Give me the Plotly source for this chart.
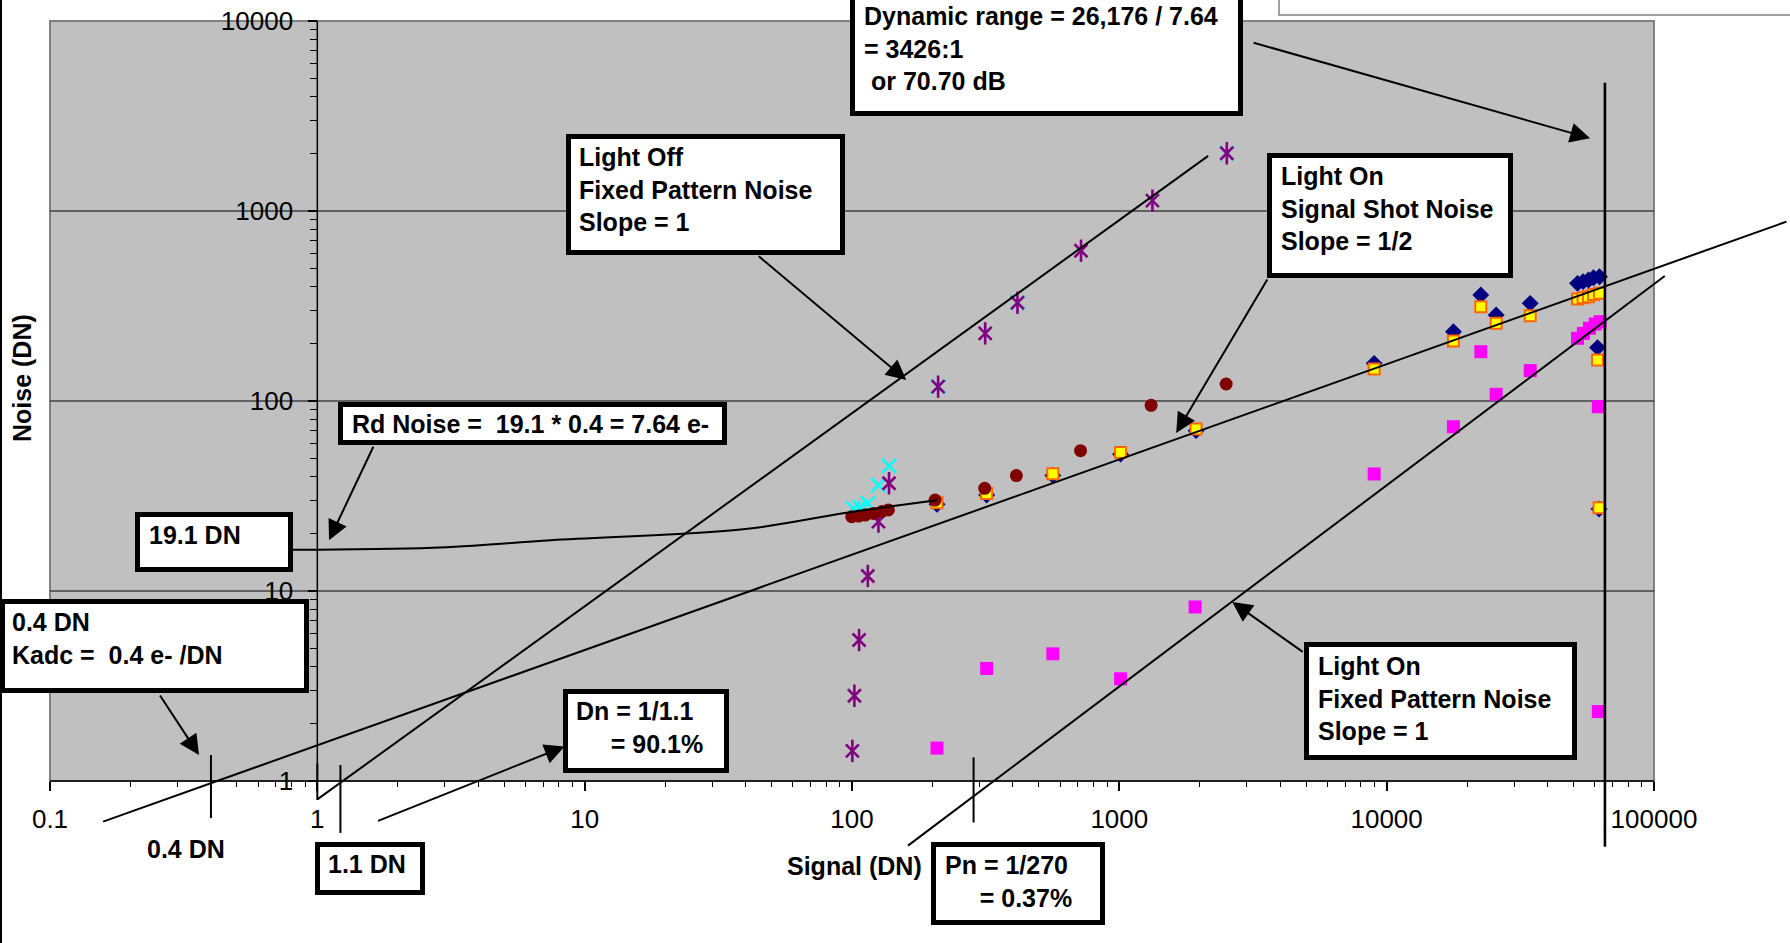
import math
import plotly.graph_objects as go

# ---------------- data ----------------
x_tick_values = [0.1, 1, 10, 100, 1000, 10000, 100000]
x_tick_labels = ["0.1", "1", "10", "100", "1000", "10000", "100000"]
y_tick_values = [1, 10, 100, 1000, 10000]
y_tick_labels = ["1", "10", "100", "1000", "10000"]

# Light Off - fixed pattern noise (purple asterisks)
off_fpn_signal = [100.3, 102.1, 106.3, 114.6, 125.6, 137.6, 210, 315, 416, 719, 1330, 2524]
off_fpn_noise = [1.44, 2.81, 5.52, 12.0, 23.2, 36.9, 119, 227, 329, 618, 1133, 2013]

# Light Off - total noise (cyan x)
off_total_signal = [101, 107, 114.6, 125.6, 137.6, 210, 416, 2524]
off_total_noise = [27.2, 27.6, 28.9, 36.1, 45.5, 119, 329, 2013]

# read + shot noise (dark red circles)
read_shot_signal = [99.8, 105.7, 112, 120.3, 129.3, 136.8, 204.6, 313.7, 412, 716, 1315, 2510]
read_shot_noise = [24.6, 24.8, 25.1, 25.6, 26.2, 26.7, 30.1, 34.7, 40.5, 54.8, 94.9, 122.9]

# Light On - total noise (navy diamonds)
on_total_signal = [208, 319, 564, 1011, 1937, 8980, 17780, 22500, 25690, 34440,
                   51760, 54300, 56900, 59400, 62550, 61500, 62300]
on_total_noise = [28.6, 32.0, 40.6, 52.5, 69.8, 157.8, 231.6, 361, 283.6, 326.6,
                  416, 425, 433, 445, 451, 191, 27.0]

# Light On - shot noise (yellow squares)
on_shot_signal = [208, 319, 564, 1011, 1937, 8980, 17780, 22500, 25690, 34440,
                  51760, 54300, 56900, 59400, 62550, 61500, 62300]
on_shot_noise = [29.1, 32.6, 41.4, 53.5, 71.2, 147.4, 207, 313.6, 256.5, 281,
                 344, 349, 354, 364, 369, 164.4, 27.4]

# Light On - fixed pattern noise (magenta squares)
on_fpn_signal = [208, 319, 564, 1011, 1921, 8980, 17780, 22500, 25690, 34440,
                 51760, 54450, 57380, 60260, 62900, 61900, 61900]
on_fpn_noise = [1.49, 3.91, 4.67, 3.45, 8.24, 41.3, 73.2, 181.8, 108.4, 144.5,
                213.8, 227, 241.5, 254, 261.5, 93.3, 2.32]

# hand-drawn model lines (signal, noise)
off_fpn_line_signal = [1.0, 2150]
off_fpn_line_noise = [0.8, 1950]
shot_line_signal = [0.158, 313000]
shot_line_noise = [0.611, 879]
on_fpn_line_signal = [162, 109700]
on_fpn_line_noise = [0.457, 455]
read_curve_signal = [0.81, 2.7, 7.5, 40, 97, 208]
read_curve_noise = [16.5, 16.9, 18.5, 21.2, 25.9, 30.0]
full_well_signal = [65535, 65535]
full_well_noise = [0.451, 4730]

# short vertical marks at 0.4 DN, 1 DN, 1.1 DN and Pn
mark_signal = [0.4, 1.0, 1.22, 285]
mark_noise_low = [0.638, 0.794, 0.533, 0.605]
mark_noise_high = [1.37, 1.235, 1.214, 1.332]

# arrow tips (signal, noise)
arrow_tip_signal = [57700, 159.6, 1632, 1.106, 0.361, 8.41, 2645]
arrow_tip_noise = [2414, 129, 67.9, 18.5, 1.37, 1.52, 8.76]

# ---------------- layout constants ----------------
W, H = 1790, 943
X_RANGE = [-1 - 50 / 267.33, -1 + 1740 / 267.33]
Y_RANGE = [0 - 162 / 190.0, 4 + 21 / 190.0]
FONT = "Liberation Sans, Arial, sans-serif"


def px(x):
    return x / W


def py(y):
    return 1 - y / H


fig = go.Figure()

# markers
fig.add_trace(go.Scatter(x=on_total_signal, y=on_total_noise, mode="markers",
                         marker=dict(symbol="diamond", size=13, color="#000080", line=dict(width=0))))
fig.add_trace(go.Scatter(x=on_shot_signal, y=on_shot_noise, mode="markers",
                         marker=dict(symbol="square", size=11, color="#FFFF00",
                                     line=dict(color="#FF6600", width=2))))
fig.add_trace(go.Scatter(x=on_fpn_signal, y=on_fpn_noise, mode="markers",
                         marker=dict(symbol="square", size=13, color="#FF00FF", line=dict(width=0))))
fig.add_trace(go.Scatter(x=off_total_signal, y=off_total_noise, mode="markers",
                         marker=dict(symbol="x-thin-open", size=14, color="#00FFFF",
                                     line=dict(color="#00FFFF", width=2.5))))
fig.add_trace(go.Scatter(x=off_fpn_signal, y=off_fpn_noise, mode="markers",
                         marker=dict(symbol="x-thin-open", size=13, color="#800080",
                                     line=dict(color="#800080", width=2.6))))
fig.add_trace(go.Scatter(x=off_fpn_signal, y=off_fpn_noise, mode="markers",
                         marker=dict(symbol="line-ns-open", size=16, color="#800080",
                                     line=dict(color="#800080", width=2.6))))
fig.add_trace(go.Scatter(x=read_shot_signal, y=read_shot_noise, mode="markers",
                         marker=dict(symbol="circle", size=13, color="#800000", line=dict(width=0))))

# model lines
for xs, ys, shape in [
    (off_fpn_line_signal, off_fpn_line_noise, "linear"),
    (shot_line_signal, shot_line_noise, "linear"),
    (on_fpn_line_signal, on_fpn_line_noise, "linear"),
    (read_curve_signal, read_curve_noise, "spline"),
]:
    fig.add_trace(go.Scatter(x=xs, y=ys, mode="lines",
                             line=dict(color="black", width=2, shape=shape)))
fig.add_trace(go.Scatter(x=full_well_signal, y=full_well_noise, mode="lines",
                         line=dict(color="black", width=2.6)))
for s, lo, hi in zip(mark_signal, mark_noise_low, mark_noise_high):
    fig.add_trace(go.Scatter(x=[s, s], y=[lo, hi], mode="lines",
                             line=dict(color="black", width=2)))

shapes = []
# plot area (data coordinates)
shapes.append(dict(type="rect", xref="x", yref="y", x0=0.1, x1=100000, y0=1, y1=10000,
                   fillcolor="#C0C0C0", line=dict(color="#808080", width=2), layer="below"))
for g in [10, 100, 1000]:
    shapes.append(dict(type="line", xref="x", yref="y", x0=0.1, x1=100000, y0=g, y1=g,
                       line=dict(color="#404040", width=1.5), layer="below"))
# axis lines
shapes.append(dict(type="line", xref="x", yref="y", x0=0.1, x1=100000, y0=1, y1=1,
                   line=dict(color="black", width=1.5), layer="below"))
shapes.append(dict(type="line", xref="x", yref="y", x0=1, x1=1, y0=1, y1=10000,
                   line=dict(color="black", width=1.5), layer="below"))
# chart-area left edge and the clipped legend frame
shapes.append(dict(type="line", xref="paper", yref="paper", x0=px(1), x1=px(1), y0=0, y1=1,
                   line=dict(color="black", width=2)))
shapes.append(dict(type="rect", xref="paper", yref="paper", x0=px(1279), x1=px(1800),
                   y0=py(15), y1=py(-10), fillcolor="white", line=dict(color="#808080", width=1.5)))

# text boxes: outer pixel rectangles
boxes = [
    (850, -10, 1243, 116),
    (566, 134, 845, 255),
    (1267, 153, 1513, 278),
    (338, 402, 727, 445),
    (135, 512, 293, 572),
    (0, 599, 309, 693),
    (563, 689, 729, 773),
    (315, 842, 425, 895),
    (931, 842, 1105, 925),
    (1304, 642, 1577, 760),
]
BW = 5
for x0, y0, x1, y1 in boxes:
    shapes.append(dict(type="rect", xref="paper", yref="paper",
                       x0=px(x0 + BW / 2), x1=px(x1 - BW / 2),
                       y0=py(y1 - BW / 2), y1=py(y0 + BW / 2),
                       fillcolor="white", line=dict(color="black", width=BW)))

NB = "\u00a0"
texts = [
    (862, 48, "Dynamic range = 26,176 / 7.64<br>= 3426:1<br>" + NB + "or 70.70 dB"),
    (577, 190, "Light Off<br>Fixed Pattern Noise<br>Slope = 1"),
    (1279, 209, "Light On<br>Signal Shot Noise<br>Slope = 1/2"),
    (350, 424, "Rd Noise =" + NB + NB + "19.1 * 0.4 = 7.64 e-"),
    (147, 535, "19.1 DN"),
    (10, 638, "0.4 DN<br>Kadc =" + NB + NB + "0.4 e- /DN"),
    (574, 727, "Dn = 1/1.1<br>" + NB * 5 + "= 90.1%"),
    (326, 864, "1.1 DN"),
    (943, 881, "Pn = 1/270<br>" + NB * 5 + "= 0.37%"),
    (1316, 698, "Light On<br>Fixed Pattern Noise<br>Slope = 1"),
    (145, 849, "0.4 DN"),
    (785, 866, "Signal (DN)"),
]
annotations = []
for x, y, t in texts:
    annotations.append(dict(xref="paper", yref="paper", x=px(x), y=py(y), text=t,
                            xanchor="left", yanchor="middle", align="left", showarrow=False,
                            font=dict(family=FONT, size=25, color="black", weight="bold")))
annotations.append(dict(xref="paper", yref="paper", x=px(22), y=py(378), text="Noise (DN)",
                        textangle=-90, xanchor="center", yanchor="middle", showarrow=False,
                        font=dict(family=FONT, size=25, color="black", weight="bold")))

# arrows: tail offsets in pixels
arrow_tails = [(-338, -96), (-149, -125), (92, -155), (45, -95), (-40, -61), (-188, 75), (72, 51)]
for s, n, (ax, ay) in zip(arrow_tip_signal, arrow_tip_noise, arrow_tails):
    annotations.append(dict(xref="x", yref="y", x=math.log10(s), y=math.log10(n), text="",
                            showarrow=True, arrowhead=2, arrowsize=2, arrowwidth=2,
                            arrowcolor="black", ax=ax, ay=ay, standoff=0, startstandoff=0))

x_minor = [m * 10.0 ** e for e in range(-1, 5) for m in range(2, 10)]
y_minor = [m * 10.0 ** e for e in range(0, 4) for m in range(2, 10)]

fig.update_layout(
    width=W, height=H,
    margin=dict(l=0, r=0, t=0, b=0, pad=0),
    paper_bgcolor="white", plot_bgcolor="white",
    showlegend=False,
    font=dict(family=FONT, color="black"),
    shapes=shapes, annotations=annotations,
    xaxis=dict(type="log", range=X_RANGE, anchor="free", position=(H - 781) / H,
               showgrid=False, zeroline=False, showline=False,
               tickmode="array", tickvals=x_tick_values, ticktext=x_tick_labels,
               ticks="outside", ticklen=9, tickwidth=1.5, tickcolor="black",
               ticklabelstandoff=6,
               tickfont=dict(family=FONT, size=26, color="black"),
               minor=dict(tickmode="array", tickvals=x_minor, ticks="outside", ticklen=5,
                          tickwidth=1, tickcolor="black", showgrid=False)),
    yaxis=dict(type="log", range=Y_RANGE, anchor="free", position=(50 + 267.33) / W,
               showgrid=False, zeroline=False, showline=False,
               tickmode="array", tickvals=y_tick_values, ticktext=y_tick_labels,
               ticks="outside", ticklen=9, tickwidth=1.5, tickcolor="black",
               ticklabelstandoff=10,
               tickfont=dict(family=FONT, size=26, color="black"),
               minor=dict(tickmode="array", tickvals=y_minor, ticks="outside", ticklen=7,
                          tickwidth=1, tickcolor="black", showgrid=False)),
)

fig.write_html("out.html", config={"displayModeBar": False},
               post_script="document.body.style.margin='0';document.body.style.overflow='hidden';")
